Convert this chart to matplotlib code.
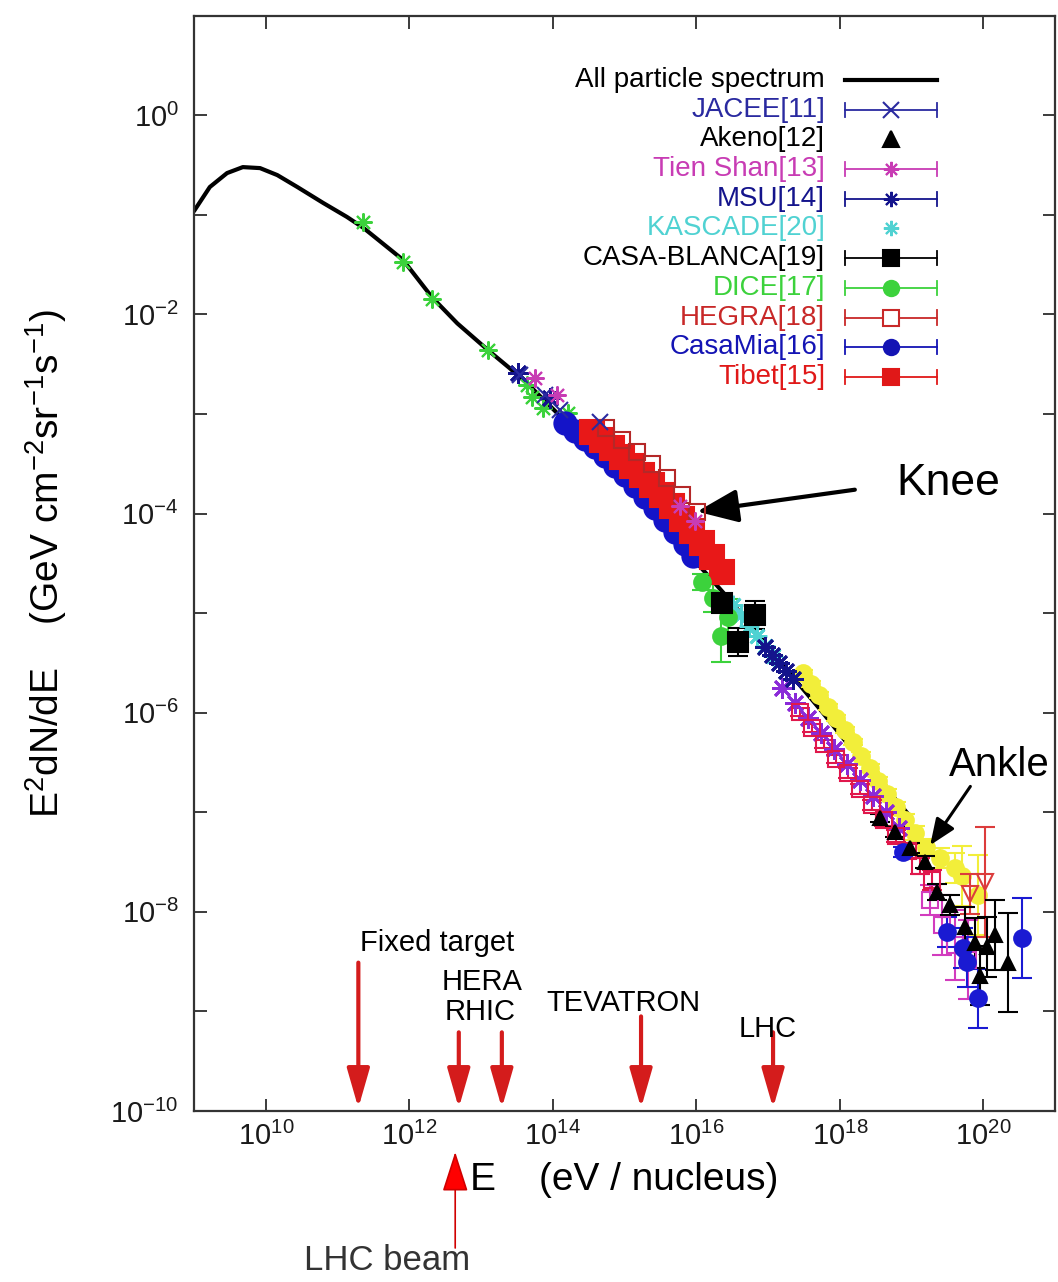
import numpy as np
import matplotlib
matplotlib.use("Agg")
import matplotlib.pyplot as plt
from matplotlib.ticker import FixedLocator, NullLocator, NullFormatter, FuncFormatter

plt.rcParams['font.family'] = ['Liberation Sans', 'DejaVu Sans']
plt.rcParams['mathtext.fontset'] = 'custom'
plt.rcParams['mathtext.rm'] = 'Liberation Sans'
plt.rcParams['mathtext.it'] = 'Liberation Sans:italic'
plt.rcParams['mathtext.bf'] = 'Liberation Sans:bold'
plt.rcParams['mathtext.default'] = 'regular'

# everything below is log10(E / eV) and log10(E^2 dN/dE / GeV cm^-2 sr^-1 s^-1)
curve_logE = [9.01, 9.22, 9.46, 9.68, 9.92, 10.16, 10.44, 10.80, 11.13, 11.36, 11.91, 12.32,
              12.67, 13.10, 13.40, 13.64, 14.06, 14.66, 15.22, 15.63, 16.05, 16.47, 16.89,
              17.31, 17.73, 18.14, 18.56, 18.98]
curve_logF = [-0.95, -0.72, -0.58, -0.52, -0.53, -0.60, -0.72, -0.88, -1.02, -1.13, -1.45, -1.83,
              -2.09, -2.36, -2.54, -2.69, -2.99, -3.44, -3.83, -4.19, -4.53, -4.87, -5.24,
              -5.61, -5.97, -6.34, -6.69, -7.04]

direct_logE = [11.36, 11.91, 12.32, 13.10, 13.64, 13.71, 13.86, 14.21]
direct_logF = [-1.07, -1.47, -1.84, -2.36, -2.71, -2.83, -2.94, -2.99]

jacee_logE = [13.54, 13.89, 14.10, 14.66]
jacee_logF = [-2.61, -2.81, -2.96, -3.08]

tienshan_logE = [13.75, 14.06, 15.77, 15.98]
tienshan_logF = [-2.64, -2.81, -3.92, -4.07]

msu_logE = [13.52, 13.96, 16.96, 17.06, 17.15, 17.25, 17.35]
msu_logF = [-2.59, -2.84, -5.34, -5.42, -5.50, -5.58, -5.66]

kascade_logE = [16.51, 16.62, 16.74, 16.85, 16.96, 17.07]
kascade_logF = [-4.92, -5.02, -5.13, -5.23, -5.33, -5.43]

casab_logE = [16.36, 16.58, 16.82]
casab_logF = [-4.90, -5.29, -5.02]
casab_dex = [0.07, 0.14, 0.14]

dice_logE = [16.08, 16.23, 16.35, 16.44]
dice_logF = [-4.69, -4.85, -5.23, -5.04]
dice_dex = [0.08, 0.14, 0.26, 0.18]

hegra_logE = [14.74, 14.97, 15.17, 15.38, 15.59, 15.80, 16.01]
hegra_logF = [-3.14, -3.26, -3.38, -3.50, -3.64, -3.81, -3.98]

casamia_logE = [14.17, 14.31, 14.45, 14.59, 14.73, 14.87, 15.01, 15.15, 15.29, 15.43, 15.56,
                15.70, 15.84, 15.95]
casamia_logF = [-3.09, -3.17, -3.25, -3.33, -3.42, -3.52, -3.61, -3.72, -3.83, -3.94, -4.06,
                -4.18, -4.31, -4.43]

tibet_logE = [14.55, 14.69, 14.83, 14.97, 15.10, 15.24, 15.38, 15.52, 15.66, 15.80, 15.94,
              16.08, 16.22, 16.36]
tibet_logF = [-3.18, -3.26, -3.34, -3.43, -3.52, -3.61, -3.71, -3.81, -3.92, -4.05, -4.17,
              -4.30, -4.44, -4.59]

akeno_logE = [18.56, 18.77, 18.98, 19.19, 19.36, 19.54, 19.75, 19.89, 19.95, 20.05, 20.16, 20.35]
akeno_logF = [-7.06, -7.20, -7.36, -7.50, -7.80, -7.93, -8.15, -8.31, -8.64, -8.35, -8.23, -8.51]
akeno_dex = [0.04, 0.05, 0.05, 0.06, 0.08, 0.10, 0.20, 0.25, 0.30, 0.30, 0.35, 0.50]

# other air-shower data around and above the ankle
yellow_logE = [17.49, 17.60, 17.71, 17.84, 17.95, 18.07, 18.18, 18.30, 18.42, 18.53, 18.66,
               18.78, 18.91, 19.05, 19.20, 19.40, 19.61, 19.70, 19.93]
yellow_logF = [-5.60, -5.71, -5.82, -5.94, -6.05, -6.17, -6.29, -6.43, -6.56, -6.69, -6.82,
               -6.95, -7.08, -7.21, -7.35, -7.46, -7.56, -7.64, -7.83]
yellow_dex = [0.03, 0.03, 0.03, 0.03, 0.03, 0.03, 0.03, 0.04, 0.04, 0.04, 0.05, 0.05, 0.06,
              0.07, 0.08, 0.10, 0.15, 0.30, 0.40]

purple_logE = [17.20, 17.38, 17.56, 17.74, 17.92, 18.10, 18.28, 18.46, 18.64, 18.83]
purple_logF = [-5.75, -5.90, -6.05, -6.20, -6.36, -6.52, -6.68, -6.84, -7.00, -7.16]

crimson_logE = [17.45, 17.61, 17.78, 17.95, 18.12, 18.28, 18.45, 18.62, 18.78, 18.95, 19.12, 19.29]
crimson_logF = [-5.99, -6.15, -6.31, -6.46, -6.61, -6.77, -6.93, -7.08, -7.24, -7.39, -7.54, -7.68]
crimson_dex = [0.04, 0.04, 0.04, 0.04, 0.05, 0.05, 0.05, 0.06, 0.06, 0.07, 0.08, 0.10]

magenta_logE = [19.26, 19.43, 19.61, 19.79]
magenta_logF = [-7.88, -8.13, -8.33, -8.48]
magenta_dex = [0.15, 0.30, 0.35, 0.40]

uhe_logE = [18.88, 19.49, 19.72, 19.77, 19.93, 20.54]
uhe_logF = [-7.40, -8.20, -8.36, -8.50, -8.87, -8.26]
uhe_dex = [0.05, 0.15, 0.20, 0.25, 0.30, 0.40]

tri_logE = [19.82, 20.02]
tri_logF = [-7.82, -7.70]
tri_dex = [0.20, 0.55]

# accelerator reach in equivalent fixed-target energy
accel_names = ['Fixed target', 'HERA', 'RHIC', 'TEVATRON', 'LHC']
accel_logE = [11.29, 12.69, 13.29, 15.23, 17.07]
lhc_beam_logE = 12.64

ASTER = (8, 2, 0)


def plotSeries(ax, logE, logF, color, marker, ms=10, filled=True, dex=None, mew=1.5, z=3):
    E = 10.0 ** np.asarray(logE)
    F = 10.0 ** np.asarray(logF)
    yerr = None
    if dex is not None:
        d = np.asarray(dex)
        yerr = [F * (1 - 10.0 ** -d), F * (10.0 ** d - 1)]
    ax.errorbar(E, F, yerr=yerr, marker=marker, linestyle='none', color=color, ms=ms,
                mfc=color if filled else 'none', mec=color, mew=mew,
                elinewidth=1.5, capsize=7, capthick=1.5, zorder=z)


fig = plt.figure(figsize=(10.58, 12.82), dpi=100)
ax = fig.add_axes([0.1834, 0.1334, 0.8138, 0.8543])
ax.set_xscale('log')
ax.set_yscale('log')
ax.set_xlim(1e9, 1e21)
ax.set_ylim(1e-10, 1e1)

ax.plot(10.0 ** np.array(curve_logE), 10.0 ** np.array(curve_logF), color='black', lw=3, zorder=2)

plotSeries(ax, direct_logE, direct_logF, '#3cd23c', ASTER, ms=13)
plotSeries(ax, yellow_logE, yellow_logF, '#f2ee3a', 'o', ms=12, dex=yellow_dex, z=2.5)
plotSeries(ax, purple_logE, purple_logF, '#8a2ad8', ASTER, ms=15, mew=2)
plotSeries(ax, crimson_logE, crimson_logF, '#e0184c', 's', ms=12, filled=False, dex=crimson_dex)
plotSeries(ax, magenta_logE, magenta_logF, '#d23cbe', 's', ms=11, filled=False, dex=magenta_dex)
plotSeries(ax, uhe_logE, uhe_logF, '#1a1ad2', 'o', ms=12, dex=uhe_dex)
plotSeries(ax, tri_logE, tri_logF, '#dc3c3c', 'v', ms=12, filled=False, dex=tri_dex)
plotSeries(ax, akeno_logE, akeno_logF, 'black', '^', ms=10, dex=akeno_dex)
plotSeries(ax, casamia_logE, casamia_logF, '#1414c8', 'o', ms=16)
plotSeries(ax, tibet_logE, tibet_logF, '#e81818', 's', ms=17)
plotSeries(ax, hegra_logE, hegra_logF, '#b42828', 's', ms=12, filled=False)
plotSeries(ax, kascade_logE, kascade_logF, '#50d2d2', ASTER, ms=14, mew=2)
plotSeries(ax, msu_logE, msu_logF, '#14148c', ASTER, ms=15, mew=2)
plotSeries(ax, jacee_logE, jacee_logF, '#2a2aa0', 'x', ms=11)
plotSeries(ax, tienshan_logE, tienshan_logF, '#c83cb4', ASTER, ms=13)
plotSeries(ax, dice_logE, dice_logF, '#3cd23c', 'o', ms=12, dex=dice_dex)
plotSeries(ax, casab_logE, casab_logF, 'black', 's', ms=14, dex=casab_dex)


# axes, ticks: labels every second decade, y ticks on every decade
def decadeLabel(v, pos):
    return r'$\mathdefault{10^{%d}}$' % int(round(np.log10(v)))


ax.xaxis.set_major_locator(FixedLocator(10.0 ** np.arange(10, 21, 2)))
ax.xaxis.set_minor_locator(NullLocator())
ax.yaxis.set_major_locator(FixedLocator(10.0 ** np.arange(-10, 1, 2)))
ax.yaxis.set_minor_locator(FixedLocator(10.0 ** np.arange(-9, 1, 2)))
ax.xaxis.set_major_formatter(FuncFormatter(decadeLabel))
ax.yaxis.set_major_formatter(FuncFormatter(decadeLabel))
ax.yaxis.set_minor_formatter(NullFormatter())
ax.tick_params(which='both', direction='in', top=True, right=True, length=9, width=1.2,
               labelsize=21, colors='#1a1a1a')
ax.tick_params(axis='x', pad=8)
ax.tick_params(axis='y', pad=11)
for sp in ax.spines.values():
    sp.set_linewidth(1.6)
    sp.set_color('#333333')

ax.set_xlabel('E    (eV / nucleus)', fontsize=28)
ax.xaxis.set_label_coords(0.5, -0.047)
ax.xaxis.label.set_va('top')
ax.set_ylabel(r'E$^2$dN/dE    (GeV cm$^{-2}$sr$^{-1}$s$^{-1}$)', fontsize=28)
ax.yaxis.set_label_coords(-0.145, 0.5)

# legend, drawn in axes fraction
legend_rows = [
    ('All particle spectrum', 'black', None, True, False),
    ('JACEE[11]', '#2a2aa0', 'x', True, True),
    ('Akeno[12]', 'black', '^', True, False),
    ('Tien Shan[13]', '#c83cb4', ASTER, True, True),
    ('MSU[14]', '#14148c', ASTER, True, True),
    ('KASCADE[20]', '#50d2d2', ASTER, True, False),
    ('CASA-BLANCA[19]', 'black', 's', True, True),
    ('DICE[17]', '#3cd23c', 'o', True, True),
    ('HEGRA[18]', '#c82828', 's', False, True),
    ('CasaMia[16]', '#1414b4', 'o', True, True),
    ('Tibet[15]', '#e01818', 's', True, True),
]
x_text, x0, x1 = 0.733, 0.756, 0.863
cap = 0.0065
for i, (label, color, marker, filled, bar) in enumerate(legend_rows):
    y = 0.9414 - i * 0.02712
    ax.text(x_text, y, label, color=color, ha='right', va='center', fontsize=20,
            transform=ax.transAxes)
    if marker is None:
        ax.plot([x0, x1], [y, y], color=color, lw=3, transform=ax.transAxes)
        continue
    if bar:
        ax.plot([x0, x1], [y, y], color=color, lw=1.3, transform=ax.transAxes)
        for xc in (x0, x1):
            ax.plot([xc, xc], [y - cap, y + cap], color=color, lw=1.3, transform=ax.transAxes)
    ax.plot([(x0 + x1) / 2], [y], marker=marker, color=color, ms=11,
            mfc=color if filled else 'white', mec=color, mew=1.5, transform=ax.transAxes)

# accelerator arrows
arrow_top_logF = [-8.51, -9.21, -9.21, -9.05, -9.21]
label_pos = [(12.39, -8.31), (13.01, -8.70), (12.99, -9.01), (14.98, -8.92), (17.0, -9.18)]
for name, lE, top, (lx, ly) in zip(accel_names, accel_logE, arrow_top_logF, label_pos):
    ax.annotate('', xy=(10 ** lE, 10 ** -9.97), xytext=(10 ** lE, 10 ** top),
                arrowprops=dict(arrowstyle='-|>,head_length=0.8,head_width=0.23',
                                color='#d41c1c', lw=3, shrinkA=0, shrinkB=0, mutation_scale=30))
    ax.text(10 ** lx, 10 ** ly, name, ha='center', va='center', fontsize=21, color='black')

# knee and ankle
ax.annotate('', xy=(10 ** 16.01, 10 ** -3.98), xytext=(10 ** 18.21, 10 ** -3.76),
            arrowprops=dict(arrowstyle='-|>,head_length=0.84,head_width=0.34', color='black',
                            lw=3, shrinkA=0, shrinkB=0, mutation_scale=30))
ax.text(10 ** 19.51, 10 ** -3.70, 'Knee', ha='center', va='center', fontsize=32)
ax.annotate('', xy=(10 ** 19.26, 10 ** -7.33), xytext=(10 ** 19.82, 10 ** -6.74),
            arrowprops=dict(arrowstyle='-|>,head_length=0.8,head_width=0.33', color='black',
                            lw=2.2, shrinkA=0, shrinkB=0, mutation_scale=20))
ax.text(10 ** 20.23, 10 ** -6.53, 'Ankle', ha='center', va='center', fontsize=29, clip_on=False)

# LHC beam energy below the axis
ax.annotate('', xy=(10 ** lhc_beam_logE, -0.0374), xytext=(10 ** lhc_beam_logE, -0.1251),
            xycoords=ax.get_xaxis_transform(), textcoords=ax.get_xaxis_transform(),
            annotation_clip=False,
            arrowprops=dict(arrowstyle='-|>,head_length=0.84,head_width=0.27', fc='#ff0000',
                            ec='#d00000', lw=1.2, shrinkA=0, shrinkB=0, mutation_scale=30))
fig.text(0.3658, 0.0165, 'LHC beam', ha='center', va='center', fontsize=25, color='#333333')

fig.savefig('out.png', dpi=100)
